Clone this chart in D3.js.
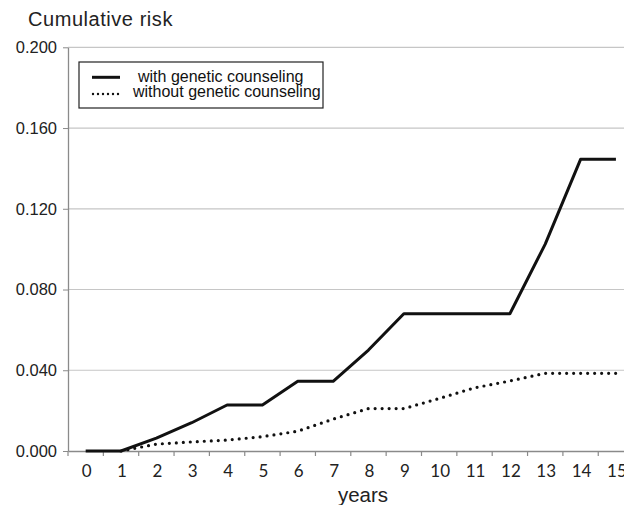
<!DOCTYPE html>
<html>
<head>
<meta charset="utf-8">
<script src="https://cdn.jsdelivr.net/npm/d3@7"></script>
<style>
  body{margin:0;background:#fff}
  svg{display:block}
</style>
</head>
<body>
<div id="chart"></div>
<script>
let years=[0,1,2,3,4,5,6,7,8,9,10,11,12,13,14,15]
let withCounseling=[0,0,0.0064,0.014,0.0228,0.0228,0.0345,0.0345,0.050,0.068,0.068,0.068,0.068,0.1025,0.1445,0.1445]
let withoutCounseling=[null,0,0.0034,0.0045,0.0054,0.0071,0.0098,0.0158,0.021,0.021,0.026,0.0313,0.0347,0.0385,0.0385,0.0385]
let yTicks=[0,0.04,0.08,0.12,0.16,0.2]
let seriesNames=['with genetic counseling','without genetic counseling']

let w=624, h=505
let padLeft=68, padBottom=451, padTop=47.3
let band=35.35

let svg=d3.select('#chart').append('svg').attr('width',w).attr('height',h)

let xScale=d3.scaleBand().domain(years).range([padLeft,padLeft+band*years.length]).padding(0)
let yScale=d3.scaleLinear().domain([0,0.2]).range([padBottom,padTop])
let cx=d=>xScale(d)+xScale.bandwidth()/2

// gridlines
svg.append('g').selectAll('line').data(yTicks.slice(1)).enter().append('line')
  .attr('x1',padLeft).attr('x2',w).attr('y1',d=>yScale(d)).attr('y2',d=>yScale(d))
  .attr('stroke','#c6c6c6').attr('stroke-width',1.2)

// y axis
let yAxis=d3.axisLeft(yScale).tickValues(yTicks).tickFormat(d3.format('.3f')).tickSize(5).tickSizeOuter(0)
let ya=svg.append('g').attr('transform','translate('+padLeft+',0)').call(yAxis)
ya.select('.domain').attr('stroke','#8a8a8a').attr('stroke-width',1.3)
ya.selectAll('.tick line').attr('stroke','#8a8a8a')
ya.selectAll('text').attr('font-family','Liberation Sans, Arial, sans-serif').attr('font-size',16.5).attr('fill','#222').attr('x',-11)

// x axis
let xAxis=d3.axisBottom(xScale).tickSize(0).tickSizeOuter(0)
let xa=svg.append('g').attr('transform','translate(0,'+padBottom+')').call(xAxis)
xa.select('.domain').attr('stroke','#8a8a8a').attr('stroke-width',1.3)
xa.selectAll('text').attr('font-family','Lato, sans-serif').attr('font-size',17).attr('fill','#222').attr('dy',0).attr('y',26)
  .attr('dx',1)
// boundary tick marks
svg.append('g').selectAll('line').data(years).enter().append('line')
  .attr('x1',d=>xScale(d)).attr('x2',d=>xScale(d)).attr('y1',padBottom).attr('y2',padBottom+5)
  .attr('stroke','#8a8a8a').attr('stroke-width',1.2)

// lines
let line=d3.line().defined(d=>d[1]!==null).x(d=>cx(d[0])).y(d=>yScale(d[1]))
svg.append('path').datum(years.map((y,i)=>[y,withCounseling[i]]))
  .attr('d',line).attr('fill','none').attr('stroke','#111').attr('stroke-width',3).attr('stroke-linejoin','round')
svg.append('path').datum(years.map((y,i)=>[y,withoutCounseling[i]]))
  .attr('d',line).attr('fill','none').attr('stroke','#111').attr('stroke-width',3.2)
  .attr('stroke-linecap','round').attr('stroke-dasharray','0,7')

// titles
svg.append('text').text('Cumulative risk').attr('x',28).attr('y',26)
  .attr('font-family','Liberation Sans, Arial, sans-serif').attr('font-size',20).attr('letter-spacing',0.55).attr('fill','#222')
svg.append('text').text('years').attr('x',363).attr('y',501.5).attr('text-anchor','middle')
  .attr('font-family','Liberation Sans, Arial, sans-serif').attr('font-size',20.5).attr('fill','#222')

// legend
let lg=svg.append('g')
lg.append('rect').attr('x',79).attr('y',62).attr('width',244).attr('height',46)
  .attr('fill','#fff').attr('stroke','#222').attr('stroke-width',1.2)
lg.append('line').attr('x1',92).attr('x2',120).attr('y1',77.3).attr('y2',77.3).attr('stroke','#111').attr('stroke-width',3)
lg.append('line').attr('x1',93).attr('x2',120).attr('y1',94).attr('y2',94).attr('stroke','#111').attr('stroke-width',2.4)
  .attr('stroke-linecap','round').attr('stroke-dasharray','0,5')
lg.selectAll('text').data(seriesNames).enter().append('text').text(d=>d)
  .attr('x',(d,i)=>i===0?138:133).attr('y',(d,i)=>i===0?81.7:97)
  .attr('font-family','Liberation Sans, Arial, sans-serif').attr('font-size',16).attr('fill','#111')
</script>
</body>
</html>
